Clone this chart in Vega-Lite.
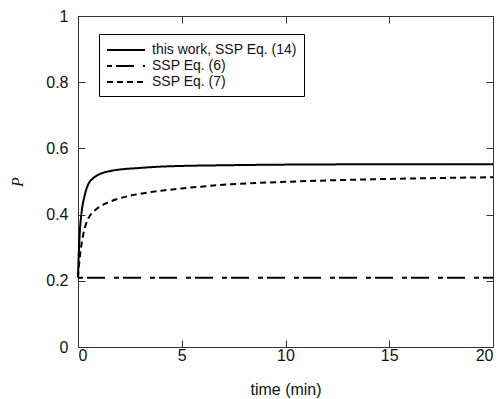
{
  "$schema": "https://vega.github.io/schema/vega-lite/v6.json",
  "width": 415,
  "height": 331,
  "autosize": {"type": "none"},
  "padding": {"left": 78, "top": 16, "right": 6, "bottom": 52},
  "background": "white",
  "config": {
    "view": {"stroke": "#333", "strokeWidth": 1},
    "font": "Liberation Sans",
    "axis": {
      "grid": false,
      "domainColor": "#333",
      "tickColor": "#333",
      "tickSize": -7,
      "labelFont": "Liberation Sans",
      "labelFontSize": 16,
      "labelColor": "#111",
      "titleFont": "Liberation Sans",
      "titleFontSize": 16,
      "titleFontWeight": "normal",
      "titleColor": "#111"
    }
  },
  "datasets": {
    "curves": [
      {"series": "this work, SSP Eq. (14)", "t": 0, "p": 0.21},
      {"series": "this work, SSP Eq. (14)", "t": 0.03, "p": 0.27},
      {"series": "this work, SSP Eq. (14)", "t": 0.06, "p": 0.315},
      {"series": "this work, SSP Eq. (14)", "t": 0.1, "p": 0.36},
      {"series": "this work, SSP Eq. (14)", "t": 0.15, "p": 0.395},
      {"series": "this work, SSP Eq. (14)", "t": 0.2, "p": 0.42},
      {"series": "this work, SSP Eq. (14)", "t": 0.3, "p": 0.452},
      {"series": "this work, SSP Eq. (14)", "t": 0.4, "p": 0.476},
      {"series": "this work, SSP Eq. (14)", "t": 0.5, "p": 0.492},
      {"series": "this work, SSP Eq. (14)", "t": 0.75, "p": 0.511},
      {"series": "this work, SSP Eq. (14)", "t": 1, "p": 0.521},
      {"series": "this work, SSP Eq. (14)", "t": 1.5, "p": 0.531},
      {"series": "this work, SSP Eq. (14)", "t": 2, "p": 0.536},
      {"series": "this work, SSP Eq. (14)", "t": 3, "p": 0.541},
      {"series": "this work, SSP Eq. (14)", "t": 4, "p": 0.545},
      {"series": "this work, SSP Eq. (14)", "t": 5, "p": 0.547},
      {"series": "this work, SSP Eq. (14)", "t": 7, "p": 0.549},
      {"series": "this work, SSP Eq. (14)", "t": 10, "p": 0.551},
      {"series": "this work, SSP Eq. (14)", "t": 15, "p": 0.552},
      {"series": "this work, SSP Eq. (14)", "t": 20, "p": 0.552},
      {"series": "SSP Eq. (6)", "t": 0, "p": 0.209},
      {"series": "SSP Eq. (6)", "t": 20, "p": 0.209},
      {"series": "SSP Eq. (7)", "t": 0, "p": 0.21},
      {"series": "SSP Eq. (7)", "t": 0.03, "p": 0.235},
      {"series": "SSP Eq. (7)", "t": 0.06, "p": 0.255},
      {"series": "SSP Eq. (7)", "t": 0.1, "p": 0.278},
      {"series": "SSP Eq. (7)", "t": 0.15, "p": 0.302},
      {"series": "SSP Eq. (7)", "t": 0.2, "p": 0.322},
      {"series": "SSP Eq. (7)", "t": 0.3, "p": 0.353},
      {"series": "SSP Eq. (7)", "t": 0.4, "p": 0.374},
      {"series": "SSP Eq. (7)", "t": 0.5, "p": 0.389},
      {"series": "SSP Eq. (7)", "t": 0.75, "p": 0.409},
      {"series": "SSP Eq. (7)", "t": 1, "p": 0.422},
      {"series": "SSP Eq. (7)", "t": 1.5, "p": 0.438},
      {"series": "SSP Eq. (7)", "t": 2, "p": 0.449},
      {"series": "SSP Eq. (7)", "t": 3, "p": 0.463},
      {"series": "SSP Eq. (7)", "t": 4, "p": 0.472},
      {"series": "SSP Eq. (7)", "t": 5, "p": 0.479},
      {"series": "SSP Eq. (7)", "t": 7, "p": 0.49},
      {"series": "SSP Eq. (7)", "t": 10, "p": 0.499},
      {"series": "SSP Eq. (7)", "t": 13, "p": 0.505},
      {"series": "SSP Eq. (7)", "t": 16, "p": 0.509},
      {"series": "SSP Eq. (7)", "t": 20, "p": 0.513}
    ]
  },
  "data": {"name": "curves"},
  "layer": [
    {
      "mark": {"type": "line", "color": "black", "strokeWidth": 2, "interpolate": "monotone"},
      "encoding": {
        "x": {
          "field": "t", "type": "quantitative",
          "scale": {"domain": [0, 20], "nice": false, "zero": false},
          "axis": {"values": [0, 5, 10, 15, 20], "title": "time (min)", "labelPadding": 7, "titlePadding": 18, "orient": "bottom"}
        },
        "y": {
          "field": "p", "type": "quantitative",
          "scale": {"domain": [0, 1], "nice": false},
          "axis": {"values": [0, 0.2, 0.4, 0.6, 0.8, 1], "format": "~g", "title": "P", "titleFont": "Liberation Serif", "titleFontStyle": "italic", "titleFontSize": 16, "labelPadding": 17, "titlePadding": 20, "orient": "left"}
        },
        "strokeDash": {
          "field": "series", "type": "nominal",
          "scale": {
            "domain": ["this work, SSP Eq. (14)", "SSP Eq. (6)", "SSP Eq. (7)"],
            "range": [[1, 0], [5, 4, 18, 9], [6, 4]]
          },
          "legend": {
            "title": null,
            "orient": "none",
            "legendX": 21,
            "legendY": 18,
            "strokeColor": "black",
            "fillColor": "white",
            "padding": 7,
            "symbolType": "M-1,0H3.75",
            "symbolSize": 256,
            "symbolStrokeWidth": 2,
            "symbolStrokeColor": "black",
            "labelFontSize": 14,
            "labelFont": "Liberation Sans",
            "labelColor": "#111",
            "labelOffset": 28,
            "rowPadding": 0
          }
        }
      }
    },
    {
      "mark": {"type": "point", "opacity": 0},
      "encoding": {
        "x": {"field": "t", "type": "quantitative", "axis": {"orient": "top", "values": [0, 5, 10, 15, 20], "labels": false, "title": null}},
        "y": {"field": "p", "type": "quantitative", "axis": {"orient": "right", "values": [0, 0.2, 0.4, 0.6, 0.8, 1], "labels": false, "title": null}}
      }
    }
  ],
  "resolve": {"axis": {"x": "independent", "y": "independent"}}
}
